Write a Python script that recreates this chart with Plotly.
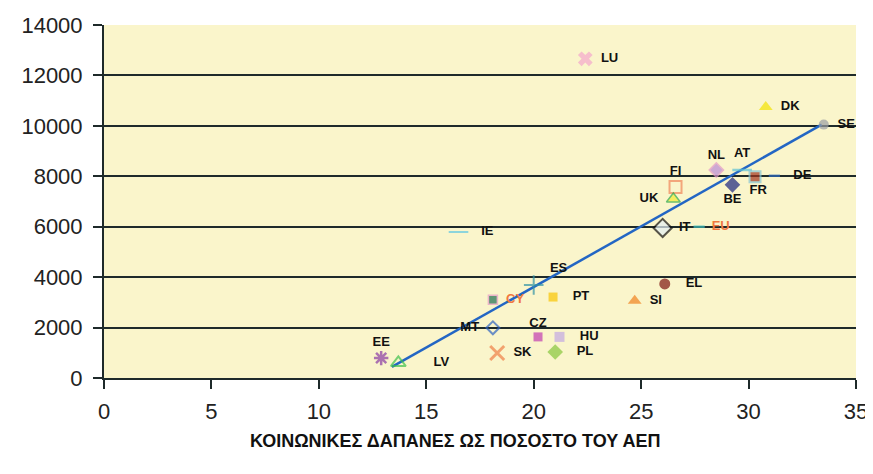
import plotly.graph_objects as go

# social spending as % of GDP vs. spending per head
countries = ["LU", "DK", "SE", "NL", "AT", "FR", "DE", "BE", "FI", "UK", "IT", "EU",
             "IE", "ES", "CY", "PT", "EL", "SI", "MT", "CZ", "HU", "SK", "PL", "LV", "EE"]
pct_gdp = [22.4, 30.8, 33.5, 28.5, 29.7, 30.3, 31.2, 29.25, 26.6, 26.5, 26.0, 27.7,
           16.5, 20.0, 18.1, 20.9, 26.1, 24.7, 18.1, 20.2, 21.2, 18.3, 21.0, 13.7, 12.9]
per_head = [12660, 10750, 10050, 8250, 8250, 7980, 8020, 7660, 7580, 7100, 5950, 6000,
            5790, 3690, 3100, 3210, 3730, 3060, 1990, 1630, 1630, 990, 1030, 600, 790]

trend_x = [13.4, 33.4]
trend_y = [440, 10050]

x_ticks = [0, 5, 10, 15, 20, 25, 30, 35]
y_ticks = [0, 2000, 4000, 6000, 8000, 10000, 12000, 14000]

# marker style per country: symbol, fill, border, border width, size, label position, label pad
STYLE = {
    "LU": ("x", "#F4A6CC", "#F4A6CC", 0, 13, "middle right", 1),
    "DK": ("triangle-up", "#F2E200", "#F2E200", 0, 12, "middle right", 1),
    "SE": ("circle", "#9A9EA4", "#9A9EA4", 0, 10, "middle right", 1),
    "NL": ("diamond", "#B98AD8", "#E59AC8", 1.5, 11, "top center", 0),
    "AT": ("line-ew", "#5FC3D6", "#5FC3D6", 2.5, 14, "top center", 0),
    "FR": ("square", "#A3341E", "#86C6D6", 2, 11, "bottom center", 1),
    "DE": ("line-ew", "#2F6CC4", "#2F6CC4", 2.5, 8, "middle right", 2),
    "BE": ("diamond", "#1A237E", "#1A237E", 0, 12, "bottom center", 0),
    "FI": ("square-open", "#F08458", "#F08458", 2, 12, "top center", 0),
    "UK": ("triangle-up", "#F2EA30", "#2EA84A", 1.5, 12, "middle left", 0),
    "IT": ("diamond", "#E4F0F4", "#111111", 2, 14, "middle right", 1),
    "EU": ("line-ew", "#3FC2C0", "#3FC2C0", 2.5, 8, "middle right", 1),
    "IE": ("line-ew", "#5FC8E4", "#5FC8E4", 2, 14, "middle right", 2),
    "ES": ("cross-thin", "#3294A6", "#3294A6", 2, 14, "top right", 1),
    "CY": ("square", "#1F6E52", "#E59AC8", 1.5, 9, "middle right", 1),
    "PT": ("square", "#F8C400", "#F8C400", 0, 9, "middle right", 2),
    "EL": ("circle", "#7E1410", "#7E1410", 0, 11, "middle right", 2),
    "SI": ("triangle-up", "#F0821E", "#F0821E", 0, 12, "middle right", 1),
    "MT": ("diamond-open", "#2E62C0", "#2E62C0", 2, 10, "middle left", 0),
    "CZ": ("square", "#C03CB0", "#C03CB0", 0, 9, "top center", 0),
    "HU": ("square", "#C2A8E2", "#C2A8E2", 0, 10, "middle right", 2),
    "SK": ("x-thin", "#F08048", "#F08048", 3, 14, "middle right", 1),
    "PL": ("diamond", "#86C63C", "#86C63C", 0, 12, "middle right", 2),
    "LV": ("triangle-up-open", "#3CC04A", "#3CC04A", 2, 13, "middle right", 4),
    "EE": ("asterisk", "#8A3CA6", "#8A3CA6", 2.5, 12, "top center", 0),
}
ORANGE_LABELS = {"CY", "EU"}


def _label(code: str) -> str:
    pos, pad = STYLE[code][5], STYLE[code][6]
    gap = "\u2002" * pad
    if "left" in pos:
        return f"<b>{code}</b>\u2002"
    return f"{gap}<b>{code}</b>"


symbols = [STYLE[c][0] for c in countries]
fills = [STYLE[c][1] for c in countries]
borders = [STYLE[c][2] for c in countries]
border_w = [STYLE[c][3] for c in countries]
sizes = [STYLE[c][4] for c in countries]
text_pos = [STYLE[c][5] for c in countries]
text_col = ["#F07840" if c in ORANGE_LABELS else "#111111" for c in countries]

fig = go.Figure()
fig.add_trace(
    go.Scatter(
        x=trend_x,
        y=trend_y,
        mode="lines",
        line=dict(color="#2366C4", width=2.5),
        hoverinfo="skip",
    )
)
fig.add_trace(
    go.Scatter(
        x=pct_gdp,
        y=per_head,
        mode="markers+text",
        text=[_label(c) for c in countries],
        textposition=text_pos,
        textfont=dict(family="Arial, sans-serif", size=13, color=text_col),
        marker=dict(
            symbol=symbols,
            color=fills,
            size=sizes,
            line=dict(color=borders, width=border_w),
        ),
        cliponaxis=False,
    )
)

fig.add_annotation(
    text="<b>ΚΟΙΝΩΝΙΚΕΣ ΔΑΠΑΝΕΣ ΩΣ ΠΟΣΟΣΤΟ ΤΟΥ ΑΕΠ</b>",
    xref="paper",
    yref="paper",
    x=0.467,
    y=-0.178,
    xanchor="center",
    yanchor="middle",
    showarrow=False,
    font=dict(family="Arial, sans-serif", size=18, color="#111111"),
)

# page body adds an 8px margin, so the figure is sized a little smaller than the window
fig.update_layout(
    width=865,
    height=466,
    margin=dict(l=96, r=17, t=17, b=96),
    paper_bgcolor="white",
    plot_bgcolor="#FAF5CB",
    showlegend=False,
    font=dict(family="Arial, sans-serif", color="#222222"),
)
fig.update_xaxes(
    range=[0, 35],
    tickvals=x_ticks,
    showgrid=False,
    zeroline=False,
    showline=True,
    linecolor="#1E2A2A",
    linewidth=2,
    ticks="outside",
    ticklen=9,
    tickwidth=2,
    tickcolor="#1E2A2A",
    tickfont=dict(size=22),
    ticklabelstandoff=4,
    automargin=False,
)
fig.update_yaxes(
    range=[0, 14000],
    tickvals=y_ticks,
    ticktext=[str(v) for v in y_ticks],
    showgrid=True,
    gridcolor="#1E2A2A",
    gridwidth=1.8,
    zeroline=False,
    showline=True,
    linecolor="#1E2A2A",
    linewidth=2,
    ticks="outside",
    ticklen=9,
    tickwidth=2,
    tickcolor="#1E2A2A",
    tickfont=dict(size=22),
    ticklabelstandoff=6,
    automargin=False,
)

fig.write_html("out.html")
